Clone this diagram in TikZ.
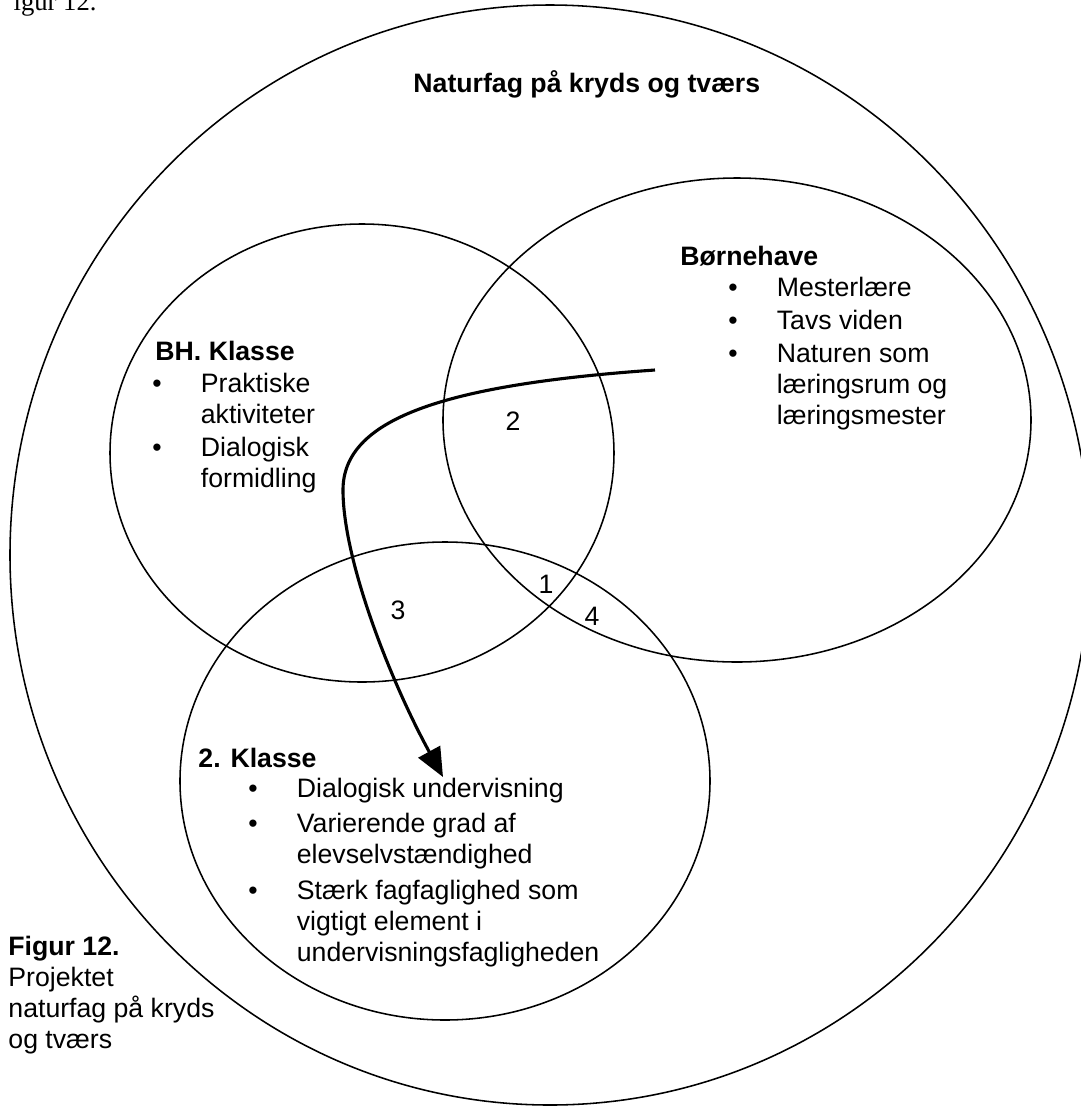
\documentclass[tikz,border=0pt]{standalone}
\usepackage{fontspec}
\setmainfont{Liberation Sans}
\newfontfamily\serifcut{Liberation Serif}
\usetikzlibrary{shapes.geometric,arrows.meta}
\tikzset{
  oval/.style={draw, ellipse, inner sep=0pt, line width=0.7pt},
  head/.style={anchor=base west, inner sep=0pt, font=\fontsize{12}{14}\selectfont\bfseries},
  txt/.style={anchor=base west, inner sep=0pt, font=\fontsize{12}{14}\selectfont},
  num/.style={inner sep=0pt, font=\fontsize{12}{14}\selectfont},
}
\newcommand{\bulletlist}[1]{\begin{tabular}[t]{@{}p{21.8pt}@{}l@{}}#1\end{tabular}}
\newcommand{\plainlines}[1]{\begin{tabular}[t]{@{}l@{}}#1\end{tabular}}

\begin{document}
\begin{tikzpicture}[x=0.45pt,y=-0.45pt]
\useasboundingbox (0,0) rectangle (1081,1113);
\node[anchor=base east, inner sep=0pt, font=\serifcut\fontsize{12}{14}\selectfont] (cut) at (97,10) {igur 12.};
\node[oval, minimum width=486pt, minimum height=495pt] (all) at (550,555) {};
\node[oval, minimum width=226.8pt, minimum height=206.1pt] (bh) at (362,453) {};
\node[oval, minimum width=264.6pt, minimum height=217.8pt] (bhave) at (737,420) {};
\node[oval, minimum width=238.5pt, minimum height=215.1pt] (kl2) at (445,781) {};
\node[head] (title) at (413,92) {Naturfag på kryds og tværs};
\node[head] (bhavehead) at (680,265) {Børnehave};
\node[txt] (bhavelist) at (728,296) {\bulletlist{
  \textbullet & Mesterlære\\[1pt]
  \textbullet & Tavs viden\\[1pt]
  \textbullet & Naturen som\\
  & læringsrum og\\
  & læringsmester}};
\node[head] (bhhead) at (155,360) {BH. Klasse};
\node[txt] (bhlist) at (152,392) {\bulletlist{
  \textbullet & Praktiske\\
  & aktiviteter\\[1pt]
  \textbullet & Dialogisk\\
  & formidling}};
\node[head] (kl2head) at (198,767) {2. Klasse};
\node[txt] (kl2list) at (248,797) {\bulletlist{
  \textbullet & Dialogisk undervisning\\[2pt]
  \textbullet & Varierende grad af\\
  & elevselvstændighed\\[2pt]
  \textbullet & Stærk fagfaglighed som\\
  & vigtigt element i\\
  & undervisningsfagligheden}};
\node[head] (fighead) at (8,955) {Figur 12.};
\node[txt] (figtext) at (8,986) {\plainlines{Projektet\\naturfag på kryds\\og tværs}};
\node[num] (n2) at (513,421) {2};
\node[num] (n1) at (546,584) {1};
\node[num] (n3) at (398,610) {3};
\node[num] (n4) at (592,616) {4};
\coordinate (from) at (655,370);
\coordinate (to) at (443,777);
\draw[line width=1.4pt, -{Triangle[length=13pt,width=11pt]}] (from) .. controls (440,385) and (343,420) .. (343,490)
  .. controls (343,560) and (390,680) .. (to);
\end{tikzpicture}
\end{document}
